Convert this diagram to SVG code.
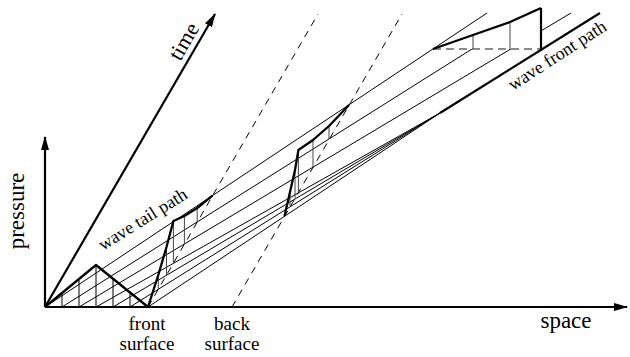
<svg xmlns="http://www.w3.org/2000/svg" width="630" height="357" viewBox="0 0 630 357">
<style>
.ax{stroke:#000;stroke-width:2.2;fill:none}
.th{stroke:#000;stroke-width:1;fill:none}
.bd{stroke:#000;stroke-width:2.3;fill:none;stroke-linejoin:round}
.vt{stroke:#444;stroke-width:1;fill:none}
.ds{stroke:#000;stroke-width:1;fill:none;stroke-dasharray:7 6}
.gd{stroke:#666;stroke-width:1.5;fill:none;stroke-dasharray:8 5}
text{font-family:"Liberation Serif","Times New Roman",serif;fill:#000}
</style>
<defs>
<marker id="ah" viewBox="0 0 14 8" refX="13" refY="4" markerWidth="14" markerHeight="8" markerUnits="userSpaceOnUse" orient="auto">
<path d="M0,0 L14,4 L0,8 Z" fill="#000"/>
</marker>
</defs>
<g id="connectors">
<path class="th" d="M45,307 L487,13"/>
<path class="th" d="M62,307 L472,49"/>
<path class="th" d="M79,307 L571,13"/>
<path class="th" d="M96,307 L440,113"/>
<path class="th" d="M113,307 L440,113"/>
<path class="th" d="M130,307 L440,113"/>
<path class="th" d="M148,307 L440,113"/>
<path class="ds" d="M148,307 L318,14"/>
<path class="ds" d="M232,307 L402,14"/>
</g>
<g id="axes">
<path class="ax" d="M45,307 L627,307" marker-end="url(#ah)"/>
<path class="ax" d="M45,307 L45,137" marker-end="url(#ah)"/>
<path class="ax" d="M45,307 L215,14" marker-end="url(#ah)"/>
</g>
<g id="front-path">
<path d="M440,113 L600,13" stroke="#000" stroke-width="2.2" fill="none"/>
</g>
<g id="pulse">
<path class="bd" d="M45,307 L96,265 L148,307"/>
<path class="th" d="M62,307 V293 M79,307 V279 M96,307 V265 M113,307 V279 M130,307 V293"/>
</g>
<g id="snapshot1">
<path class="vt" d="M158.3,289 V275 M166.5,275 V247 M173.4,263 V221 M184.4,244 V216 M197.2,222 V208"/>
<path class="bd" d="M148,307 L158.3,275 L166.5,247 L173.4,221 L184.4,216 L197.2,208 L212.4,195.6"/>
</g>
<g id="snapshot2">
<path class="vt" d="M290,206 V192 M295,198 V170 M298.4,192 V150 M313,167 V140 M329,139 V126"/>
<path class="bd" d="M284.5,216 L290,192 L295,170 L298.4,150 L313,140 L329,126 L349,105"/>
</g>
<g id="snapshot3">
<path d="M433,49 L473,35 L510,22 L541,8 L541,49 Z" fill="#fff" stroke="none"/>
<path class="gd" d="M433,49 H541"/>
<path class="vt" d="M473,49 V35 M510,49 V22"/>
<path class="bd" d="M433,49 L473,35 L510,22 L541,8"/>
<path d="M541,8 V51" stroke="#000" stroke-width="2.2"/>
</g>
<g id="labels">
<text x="190" y="45" font-size="22" text-anchor="middle" transform="rotate(-60 190 45)">time</text>
<text x="24" y="211" font-size="23" text-anchor="middle" transform="rotate(-90 24 211)">pressure</text>
<text x="566" y="328" font-size="23" text-anchor="middle">space</text>
<text x="147" y="330" font-size="19" text-anchor="middle">front</text>
<text x="147" y="350" font-size="19" text-anchor="middle">surface</text>
<text x="232" y="330" font-size="19" text-anchor="middle">back</text>
<text x="232" y="350" font-size="19" text-anchor="middle">surface</text>
<text x="103" y="251" font-size="18" transform="rotate(-32 103 251)">wave tail path</text>
<text x="513" y="91" font-size="18" transform="rotate(-33 513 91)">wave front path</text>
</g>
</svg>
